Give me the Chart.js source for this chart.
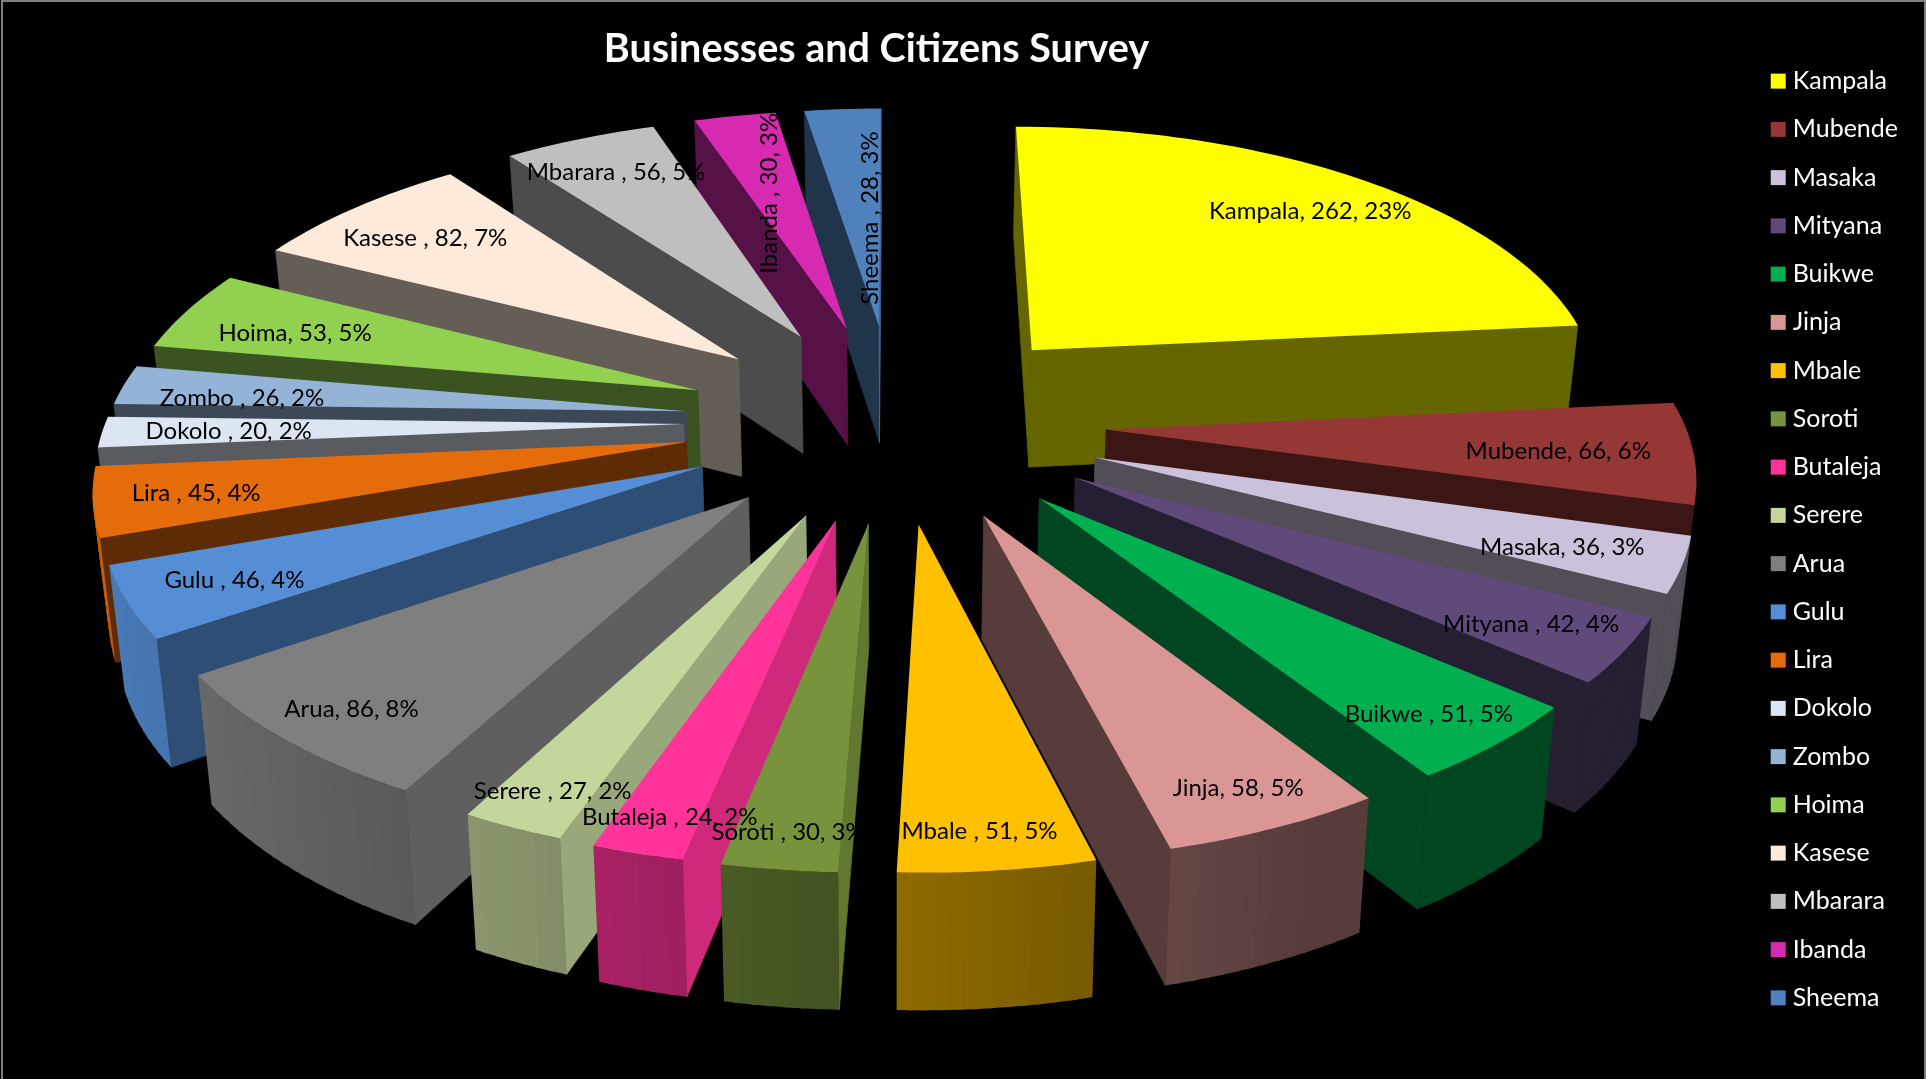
<!DOCTYPE html>
<html>
<head>
<meta charset="utf-8">
<title>Businesses and Citizens Survey</title>
<script src="https://cdn.jsdelivr.net/npm/chart.js@4/dist/chart.umd.js"></script>
<style>
   html, body { margin: 0; background: #000; }
   canvas { display: block; }
</style>
</head>
<body>
<canvas id="chart" width="1926" height="1079"></canvas>
<script>
const categories = [
   "Kampala", "Mubende", "Masaka", "Mityana ", "Buikwe ", "Jinja", "Mbale ",
   "Soroti ", "Butaleja ", "Serere ", "Arua", "Gulu ", "Lira ", "Dokolo ",
   "Zombo ", "Hoima", "Kasese ", "Mbarara ", "Ibanda ", "Sheema ",
];
const responses = [262, 66, 36, 42, 51, 58, 51, 30, 24, 27, 86, 46, 45, 20, 26, 53, 82, 56, 30, 28];
const sliceColors = [
   "#FFFF00", "#953735", "#CCC1DA", "#604A7B", "#00B050", "#D99694", "#FFC000",
   "#77933C", "#FF3399", "#C3D69B", "#7F7F7F", "#558ED5", "#E46C0A", "#DCE6F2",
   "#95B3D7", "#92D050", "#FDEADA", "#BFBFBF", "#D62BB0", "#4F81BD",
];

// how far along the slice each data label sits, 0 = tip, 1 = rim
const labelReach = [0.82, 0.77, 0.84, 0.86, 0.9, 0.9, 0.91, 0.91, 0.91, 0.9, 0.85, 0.84, 0.85, 0.79, 0.77, 0.72, 0.8, 0.83, 0.62, 0.47];
// hand nudges in px so labels dodge the slice edges
const labelNudgeX = [4, 1, -22, -11, -18, -4, -10, 0, 12, 7, -9, 10, 12, 4, -10, -31, -2, 2, -5, 9];
const labelNudgeY = [3, 4, 0, 0, -2, -4, -4, -2, -2, -1, 10, 1, 1, 1, 7, 1, 2, 2, 2, 0];
const uprightLabels = ["Ibanda ", "Sheema "];

// camera for the tilted pie
const view = { cx: 895, cy: 421, sx: 578, sy: 271, depth: 122, persp: 0.134, floor: 1.02 };

const project = (x, z, lower = false) => {
   const w = (1 - view.persp * z) * (lower ? view.floor : 1);
   return {
      x: view.cx + (view.sx * x) / w,
      y: view.cy + (view.sy * z + (lower ? view.depth : 0)) / w,
   };
};

const shade = (hex, f) => {
   const n = parseInt(hex.slice(1), 16);
   const ch = (v) => Math.round(v * f);
   return `rgb(${ch(n >> 16)}, ${ch((n >> 8) & 255)}, ${ch(n & 255)})`;
};

const fillPoly = (ctx, pts, color, seal = false) => {
   ctx.beginPath();
   pts.forEach((p, i) => (i ? ctx.lineTo(p.x, p.y) : ctx.moveTo(p.x, p.y)));
   ctx.closePath();
   ctx.fillStyle = color;
   ctx.fill();
   if (seal) {
      // hairline in the same colour closes the gap to the neighbouring face
      ctx.strokeStyle = color;
      ctx.lineWidth = 0.8;
      ctx.stroke();
   }
};

// unit-circle geometry of one arc, using the angles and offset the controller worked out
const sliceGeometry = (arc) => {
   const mid = (arc.startAngle + arc.endAngle) / 2;
   const e = arc.options.offset / arc.outerRadius;
   return { mid, tipX: Math.cos(mid) * e, tipZ: Math.sin(mid) * e, start: arc.startAngle, end: arc.endAngle };
};

const facesCamera = (x, z, nx, nz) => -x * nx + (1 / view.persp - z) * nz > 0;

const PieController = Chart.registry.getController("pie");

class Pie3DController extends PieController {
   static id = "pie3d";

   draw() {
      const ctx = this.chart.ctx;
      const arcs = this.getMeta().data.slice();

      // far slices first so near ones paint over them
      arcs.sort((a, b) => Math.sin(sliceGeometry(a).mid) - Math.sin(sliceGeometry(b).mid));

      ctx.save();
      arcs.forEach((arc) => this.drawSlice(ctx, arc));
      ctx.restore();
   }

   drawSlice(ctx, arc) {
      const { tipX, tipZ, start, end } = sliceGeometry(arc);
      const color = arc.options.backgroundColor;
      const rimPoint = (a) => ({ x: tipX + Math.cos(a), z: tipZ + Math.sin(a) });

      // the two cut faces
      [
         { a: start, nx: Math.sin(start), nz: -Math.cos(start) },
         { a: end, nx: -Math.sin(end), nz: Math.cos(end) },
      ].forEach(({ a, nx, nz }) => {
         if (!facesCamera(tipX, tipZ, nx, nz)) return;
         const p = rimPoint(a);
         fillPoly(
            ctx,
            [project(tipX, tipZ), project(p.x, p.z), project(p.x, p.z, true), project(tipX, tipZ, true)],
            shade(color, Math.max(0.4, 0.2 + 0.62 * nx)),
            true
         );
      });

      // outer rim in bands, each one running under the next so no seams show
      const steps = Math.max(2, Math.ceil((end - start) / 0.025));
      const stepSize = (end - start) / steps;
      for (let i = 0; i < steps; i++) {
         const a0 = start + stepSize * i;
         const a1 = i === steps - 1 ? end : a0 + stepSize * 1.4;
         const am = a0 + stepSize / 2;
         const p0 = rimPoint(a0);
         const p1 = rimPoint(a1);
         if (!facesCamera(p0.x, p0.z, Math.cos(am), Math.sin(am))) continue;
         fillPoly(
            ctx,
            [project(p0.x, p0.z), project(p1.x, p1.z), project(p1.x, p1.z, true), project(p0.x, p0.z, true)],
            shade(color, Math.max(0.4, 0.55 - 0.33 * Math.cos(am)))
         );
      }

      // top face
      const top = [project(tipX, tipZ)];
      for (let i = 0; i <= steps; i++) {
         const p = rimPoint(start + stepSize * i);
         top.push(project(p.x, p.z));
      }
      fillPoly(ctx, top, color);
   }
}

Chart.register(Pie3DController);

const total = responses.reduce((sum, v) => sum + v, 0);

const dataLabels = {
   id: "dataLabels",
   afterDatasetsDraw(chart) {
      const { ctx } = chart;
      ctx.save();
      ctx.fillStyle = "#000";
      ctx.font = "24px Lato";
      ctx.textAlign = "center";
      ctx.textBaseline = "middle";
      chart.getDatasetMeta(0).data.forEach((arc, i) => {
         const { mid, tipX, tipZ } = sliceGeometry(arc);
         const at = project(tipX + Math.cos(mid) * labelReach[i], tipZ + Math.sin(mid) * labelReach[i]);
         const text = `${categories[i]}, ${responses[i]}, ${Math.round((responses[i] / total) * 100)}%`;
         ctx.save();
         ctx.translate(at.x + labelNudgeX[i], at.y + labelNudgeY[i]);
         if (uprightLabels.includes(categories[i])) ctx.rotate(-Math.PI / 2);
         ctx.fillText(text, 0, 0);
         ctx.restore();
      });
      ctx.restore();
   },
};

const frame = {
   id: "frame",
   beforeDraw(chart) {
      const { ctx, width, height } = chart;
      ctx.save();
      ctx.fillStyle = "#000";
      ctx.fillRect(0, 0, width, height);
      ctx.strokeStyle = "#7f7f7f";
      ctx.lineWidth = 2;
      ctx.strokeRect(2, 1, width - 3, height);
      ctx.restore();
   },
};

new Chart(document.getElementById("chart"), {
   type: "pie3d",
   data: {
      labels: categories,
      datasets: [
         {
            data: responses,
            backgroundColor: sliceColors,
            borderWidth: 0,
            radius: 400,
            offset: 146,
         },
      ],
   },
   options: {
      responsive: false,
      animation: false,
      layout: { padding: { right: 18 } },
      plugins: {
         title: {
            display: true,
            text: "Businesses and Citizens Survey",
            color: "#fff",
            fullSize: false,
            font: { family: "Lato", size: 39.5, weight: "bold" },
            padding: { top: 26, bottom: 10 },
         },
         legend: {
            position: "right",
            labels: {
               color: "#fff",
               usePointStyle: true,
               pointStyle: "rect",
               boxWidth: 4,
               boxHeight: 15,
               padding: 23.25,
               font: { family: "Lato", size: 25 },
            },
         },
         tooltip: { enabled: false },
      },
   },
   plugins: [frame, dataLabels],
});
</script>
</body>
</html>
